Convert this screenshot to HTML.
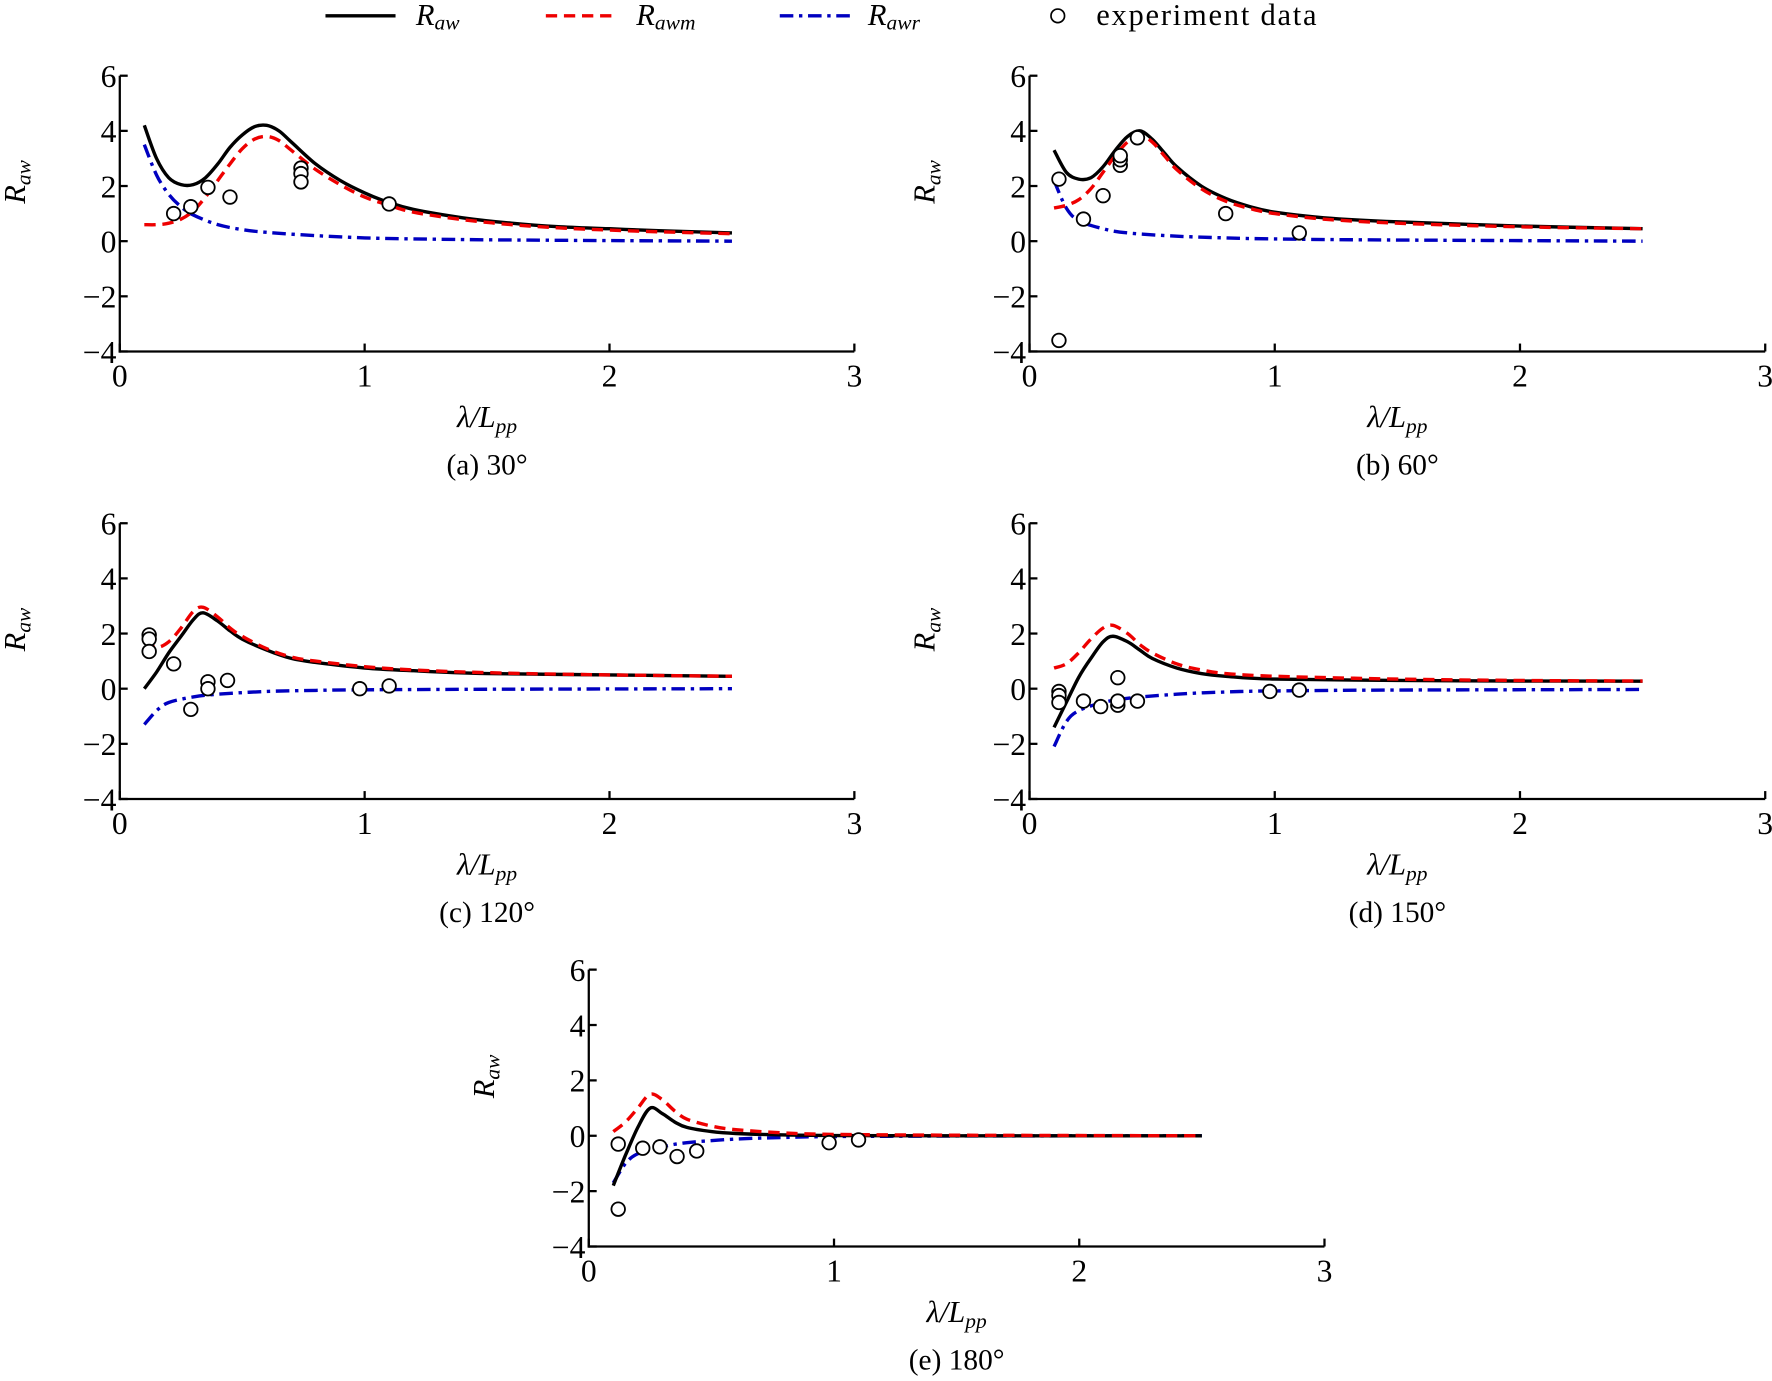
<!DOCTYPE html>
<html><head><meta charset="utf-8"><style>
html,body{margin:0;padding:0;background:#fff}
svg{display:block;font-family:"Liberation Serif",serif}
</style></head><body>
<svg id="fig" width="1772" height="1381" viewBox="0 0 1568 1222" preserveAspectRatio="none" xmlns="http://www.w3.org/2000/svg">
<g font-size="27">
<g><line x1="288" y1="14" x2="350" y2="14" stroke="#000" stroke-width="3"/><text x="368" y="22" font-style="italic">R<tspan font-size="19" dy="4">aw</tspan></text></g>
<g><line x1="483" y1="14" x2="545" y2="14" stroke="#e00" stroke-width="3" stroke-dasharray="10,6"/><text x="563" y="22" font-style="italic">R<tspan font-size="19" dy="4">awm</tspan></text></g>
<g><line x1="690" y1="14" x2="752" y2="14" stroke="#0000c0" stroke-width="3" stroke-dasharray="12,5,3,5"/><text x="768" y="22" font-style="italic">R<tspan font-size="19" dy="4">awr</tspan></text></g>
<g><circle cx="936" cy="14" r="6" fill="#fff" stroke="#000" stroke-width="1.5"/><text x="970" y="22" textLength="195">experiment data</text></g>
</g>
</svg>
<script>
const xs=[0.1,0.15,0.2,0.25,0.3,0.35,0.4,0.45,0.5,0.55,0.6,0.65,0.7,0.8,0.9,1.0,1.1,1.2,1.4,1.6,1.8,2.0,2.2,2.5];
const aRaw=[4.2,3.0,2.3,2.05,2.05,2.3,2.8,3.4,3.85,4.15,4.2,4.0,3.6,2.8,2.2,1.75,1.4,1.15,0.85,0.65,0.52,0.45,0.38,0.3];
const aRawm=[0.6,0.6,0.65,0.8,1.1,1.6,2.2,2.8,3.35,3.7,3.8,3.65,3.3,2.6,2.05,1.6,1.3,1.05,0.78,0.6,0.48,0.4,0.34,0.27];
const aRawrX=[0.1,0.15,0.2,0.25,0.3,0.4,0.5,0.6,0.8,1.0,1.2,1.5,2.0,2.5];
const aRawr=[3.5,2.4,1.7,1.25,0.95,0.6,0.42,0.32,0.2,0.12,0.08,0.05,0.02,0];
const aExpX=[0.22,0.29,0.36,0.45,0.74,0.74,0.74,1.1];
const aExpY=[1.0,1.25,1.95,1.6,2.65,2.45,2.15,1.35];

const bX=[0.1,0.15,0.2,0.25,0.3,0.35,0.4,0.45,0.5,0.55,0.6,0.7,0.8,0.9,1.0,1.2,1.5,2.0,2.5];
const bRaw=[3.3,2.5,2.25,2.3,2.7,3.3,3.8,4.0,3.7,3.2,2.7,2.0,1.55,1.25,1.05,0.85,0.7,0.55,0.45];
const bRawm=[1.2,1.3,1.5,1.9,2.5,3.1,3.6,3.85,3.6,3.1,2.6,1.9,1.45,1.18,1.0,0.8,0.65,0.52,0.45];
const bRawrX=[0.1,0.15,0.2,0.3,0.4,0.6,0.8,1.0,1.5,2.5];
const bRawr=[2.2,1.2,0.75,0.45,0.3,0.18,0.12,0.08,0.04,0];
const bExpX=[0.12,0.22,0.3,0.37,0.37,0.37,0.44,0.8,1.1,0.12];
const bExpY=[2.25,0.8,1.65,2.75,2.95,3.1,3.75,1.0,0.3,-3.6];

const cX=[0.1,0.15,0.2,0.25,0.3,0.34,0.4,0.45,0.5,0.6,0.7,0.8,1.0,1.2,1.5,2.0,2.5];
const cRaw=[0,0.6,1.3,1.9,2.5,2.75,2.45,2.1,1.8,1.4,1.1,0.95,0.75,0.65,0.55,0.5,0.45];
const cRawm=[1.7,1.5,1.7,2.2,2.8,2.95,2.6,2.2,1.9,1.45,1.15,1.0,0.8,0.68,0.58,0.5,0.45];
const cRawrX=[0.1,0.15,0.2,0.3,0.4,0.6,0.8,1.0,1.5,2.5];
const cRawr=[-1.3,-0.8,-0.5,-0.3,-0.2,-0.1,-0.06,-0.04,-0.02,0];
const cExpX=[0.12,0.12,0.12,0.22,0.29,0.36,0.36,0.44,0.98,1.1];
const cExpY=[1.95,1.8,1.35,0.9,-0.75,0.25,0.0,0.3,0.0,0.1];

const dX=[0.1,0.15,0.2,0.25,0.3,0.34,0.4,0.45,0.5,0.6,0.7,0.8,1.0,1.5,2.0,2.5];
const dRaw=[-1.4,-0.5,0.4,1.1,1.7,1.9,1.7,1.4,1.1,0.75,0.55,0.45,0.35,0.3,0.28,0.27];
const dRawm=[0.75,0.9,1.3,1.8,2.2,2.3,2.0,1.6,1.3,0.9,0.68,0.55,0.45,0.35,0.3,0.28];
const dRawrX=[0.1,0.15,0.2,0.3,0.4,0.6,0.8,1.0,1.5,2.5];
const dRawr=[-2.1,-1.2,-0.8,-0.5,-0.35,-0.2,-0.12,-0.08,-0.05,-0.03];
const dExpX=[0.12,0.12,0.12,0.22,0.29,0.36,0.36,0.36,0.44,0.98,1.1];
const dExpY=[-0.1,-0.25,-0.5,-0.45,-0.65,-0.6,-0.45,0.4,-0.45,-0.1,-0.05];

const eX=[0.1,0.15,0.2,0.25,0.3,0.35,0.4,0.5,0.6,0.8,1.0,1.5,2.5];
const eRaw=[-1.8,-0.7,0.3,1.0,0.8,0.5,0.3,0.15,0.08,0.03,0.01,0,0];
const eRawm=[0.15,0.5,1.0,1.5,1.3,0.9,0.6,0.35,0.22,0.1,0.05,0.02,0];
const eRawrX=[0.1,0.15,0.2,0.3,0.4,0.6,0.8,1.0,1.5,2.5];
const eRawr=[-1.7,-1.0,-0.65,-0.4,-0.25,-0.12,-0.06,-0.03,-0.01,0];
const eExpX=[0.12,0.12,0.22,0.29,0.36,0.44,0.98,1.1];
const eExpY=[-0.3,-2.65,-0.45,-0.4,-0.75,-0.55,-0.25,-0.15];

const xTicks=[0,1,2,3];
const yTicks=[-4,-2,0,2,4,6];
const captions=["(a) 30°","(b) 60°","(c) 120°","(d) 150°","(e) 180°"];

const NS="http://www.w3.org/2000/svg";
const svg=document.getElementById('fig');
function mk(tag,attrs,parent){const e=document.createElementNS(NS,tag);for(const k in attrs)e.setAttribute(k,attrs[k]);parent.appendChild(e);return e;}
function smooth(P){
 let d='M'+P[0][0].toFixed(1)+','+P[0][1].toFixed(1);
 for(let i=0;i<P.length-1;i++){
  const p0=P[i-1]||P[i],p1=P[i],p2=P[i+1],p3=P[i+2]||P[i+1];
  const c1=[p1[0]+(p2[0]-p0[0])/6,p1[1]+(p2[1]-p0[1])/6];
  const c2=[p2[0]-(p3[0]-p1[0])/6,p2[1]-(p3[1]-p1[1])/6];
  d+=` C${c1[0].toFixed(1)},${c1[1].toFixed(1)} ${c2[0].toFixed(1)},${c2[1].toFixed(1)} ${p2[0].toFixed(1)},${p2[1].toFixed(1)}`;
 }
 return d;
}

const panels=[
 {id:'a',x0:106,x3:756,y6:67,ym4:311,d:[xs,aRaw,xs,aRawm,aRawrX,aRawr,aExpX,aExpY]},
 {id:'b',x0:911,x3:1562,y6:67,ym4:311,d:[bX,bRaw,bX,bRawm,bRawrX,bRawr,bExpX,bExpY]},
 {id:'c',x0:106,x3:756,y6:463,ym4:707,d:[cX,cRaw,cX,cRawm,cRawrX,cRawr,cExpX,cExpY]},
 {id:'d',x0:911,x3:1562,y6:463,ym4:707,d:[dX,dRaw,dX,dRawm,dRawrX,dRawr,dExpX,dExpY]},
 {id:'e',x0:521,x3:1172,y6:858,ym4:1103,d:[eX,eRaw,eX,eRawm,eRawrX,eRawr,eExpX,eExpY]}
];
panels.forEach((p,i)=>{
 const g=mk('g',{},svg);
 
 
 const sx=v=>p.x0+(p.x3-p.x0)*v/3;
 const sy=v=>p.ym4-(p.ym4-p.y6)*(v+4)/10;
 const ax=mk('g',{stroke:'#000','stroke-width':2,fill:'none'},g);
 
 
 mk('line',{x1:p.x0,y1:p.y6,x2:p.x0,y2:p.ym4+1},ax);
 mk('line',{x1:p.x0-1,y1:p.ym4,x2:p.x3,y2:p.ym4},ax);
 xTicks.forEach(t=>{
  mk('line',{x1:sx(t),y1:p.ym4,x2:sx(t),y2:p.ym4-7},ax);
  const tx=mk('text',{x:sx(t),y:p.ym4+31,'font-size':28,'text-anchor':'middle'},g);
  tx.textContent=t;
  
  
 });
 yTicks.forEach(t=>{
  mk('line',{x1:p.x0,y1:sy(t),x2:p.x0+7,y2:sy(t)},ax);
  const tx=mk('text',{x:p.x0-3,y:sy(t)+10,'font-size':28,'text-anchor':'end'},g);
  tx.textContent=t<0?'\u2212'+(-t):t;
  
  
 });
 const xl=mk('text',{x:(p.x0+p.x3)/2,y:p.ym4+67,'font-size':27,'text-anchor':'middle','font-style':'italic'},g);
 xl.innerHTML='λ/L<tspan font-size="19" dy="5">pp</tspan>';
 
 
 const yx=p.x0-84, yy=(p.y6+p.ym4)/2-28;
 const yl=mk('text',{x:0,y:0,'font-size':27,'font-style':'italic',transform:`translate(${yx},${yy}) rotate(-90)`,'text-anchor':'middle'},g);
 yl.innerHTML='R<tspan font-size="19" dy="5">aw</tspan>';
 
 
 const cp=mk('text',{x:(p.x0+p.x3)/2,y:p.ym4+109,'font-size':26,'text-anchor':'middle'},g);
 cp.textContent=captions[i];
 
 
 const line=(X,Y,st,dash,name)=>{
  const P=X.map((v,k)=>[sx(v),sy(Y[k])]);
  const a={d:smooth(P),fill:'none',stroke:st,'stroke-width':3,'stroke-linejoin':'round'};
  if(dash)a['stroke-dasharray']=dash;
  const pl=mk('path',a,g);
  
  
 };
 const d=p.d;
 line(d[4],d[5],'#0000c0','12,5,3,5','rawr-line');
 line(d[0],d[1],'#000',null,'raw-line');
 line(d[2],d[3],'#e00','10,6','rawm-line');
 d[6].forEach((v,k)=>{
  const c=mk('circle',{cx:sx(v),cy:sy(d[7][k]),r:6,fill:'#fff',stroke:'#000','stroke-width':1.6},g);
  
  
 });
});
</script>
</body></html>
